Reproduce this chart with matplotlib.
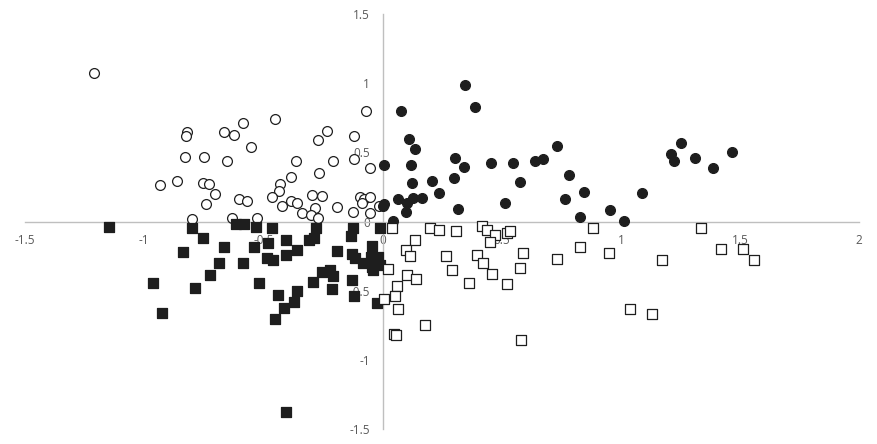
import matplotlib
matplotlib.use("Agg")
import matplotlib.pyplot as plt
from matplotlib.ticker import FixedLocator, FuncFormatter

plt.rcParams['font.family'] = ['Open Sans', 'DejaVu Sans']
plt.rcParams['axes.unicode_minus'] = False

# Quadrant II: open circles
q2_x = [-1.209, -0.819, -0.823, -0.828, -0.748, -0.932, -0.861, -0.753, -0.727, -0.702,
        -0.740, -0.798, -0.068, -0.665, -0.622, -0.584, -0.450, -0.552, -0.232, -0.270,
        -0.119, -0.651, -0.363, -0.207, -0.120, -0.052, -0.266, -0.384, -0.430, -0.435,
        -0.601, -0.570, -0.463, -0.421, -0.384, -0.360, -0.339, -0.295, -0.253, -0.284,
        -0.302, -0.270, -0.190, -0.123, -0.095, -0.078, -0.053, -0.088, -0.052, -0.015,
        -0.633, -0.526]
q2_y = [1.072, 0.650, 0.618, 0.465, 0.465, 0.267, 0.291, 0.277, 0.270, 0.197,
        0.125, 0.019, 0.797, 0.647, 0.624, 0.712, 0.739, 0.537, 0.652, 0.590,
        0.616, 0.438, 0.438, 0.438, 0.450, 0.385, 0.351, 0.322, 0.272, 0.221,
        0.161, 0.151, 0.180, 0.115, 0.151, 0.132, 0.062, 0.192, 0.185, 0.098,
        0.050, 0.028, 0.105, 0.067, 0.180, 0.161, 0.180, 0.132, 0.062, 0.113,
        0.028, 0.028]

# Quadrant I: filled circles
q1_x = [0.347, 0.389, 0.078, 0.112, 0.137, 0.006, 0.119, 0.305, 0.340, 0.456,
        0.548, 0.639, 0.672, 0.733, 0.782, 0.578, 0.125, 0.208, 0.301, 0.238,
        0.066, 0.129, 0.164, 0.104, 0.006, 0.002, 0.099, 0.316, 0.513, 0.766,
        0.846, 0.829, 0.042, 0.954, 1.014, 1.089, 1.211, 1.222, 1.253, 1.310,
        1.387, 1.466]
q1_y = [0.985, 0.826, 0.797, 0.599, 0.522, 0.407, 0.407, 0.457, 0.392, 0.421,
        0.421, 0.438, 0.450, 0.544, 0.335, 0.284, 0.277, 0.291, 0.315, 0.204,
        0.161, 0.171, 0.171, 0.132, 0.127, 0.113, 0.067, 0.089, 0.132, 0.161,
        0.212, 0.031, 0.002, 0.084, 0.002, 0.207, 0.491, 0.436, 0.566, 0.460,
        0.385, 0.501]

# Quadrant III: filled squares
q3_x = [-1.146, -0.798, -0.752, -0.836, -0.664, -0.616, -0.581, -0.530, -0.463, -0.538,
        -0.479, -0.405, -0.685, -0.584, -0.484, -0.458, -0.405, -0.723, -0.962, -0.786,
        -0.517, -0.437, -0.414, -0.450, -0.924, -0.281, -0.288, -0.309, -0.360, -0.190,
        -0.123, -0.133, -0.046, -0.130, -0.116, -0.081, -0.050, -0.018, -0.046, -0.011,
        -0.039, -0.255, -0.221, -0.209, -0.291, -0.214, -0.127, -0.119, -0.022, -0.358,
        -0.370, -0.011, -0.405]
q3_y = [-0.041, -0.046, -0.121, -0.222, -0.186, -0.020, -0.020, -0.039, -0.048, -0.186,
        -0.157, -0.133, -0.301, -0.301, -0.265, -0.277, -0.241, -0.388, -0.446, -0.482,
        -0.446, -0.530, -0.622, -0.704, -0.663, -0.044, -0.121, -0.133, -0.205, -0.212,
        -0.048, -0.104, -0.174, -0.236, -0.265, -0.301, -0.254, -0.254, -0.326, -0.314,
        -0.350, -0.362, -0.350, -0.391, -0.434, -0.487, -0.422, -0.535, -0.590, -0.501,
        -0.579, -0.044, -1.376]

# Quadrant IV: open squares
q4_x = [0.041, 0.200, 0.238, 0.309, 0.416, 0.439, 0.471, 0.451, 0.523, 0.534,
        0.137, 0.099, 0.116, 0.267, 0.397, 0.422, 0.590, 0.733, 0.024, 0.292,
        0.460, 0.578, 0.104, 0.141, 0.364, 0.523, 0.062, 0.053, 0.007, 0.066,
        0.179, 0.049, 0.055, 0.582, 0.884, 1.336, 0.829, 0.951, 1.173, 1.421,
        1.513, 1.559, 1.039, 1.131]
q4_y = [-0.044, -0.048, -0.063, -0.068, -0.034, -0.063, -0.097, -0.150, -0.082, -0.068,
        -0.135, -0.207, -0.251, -0.251, -0.241, -0.301, -0.229, -0.272, -0.345, -0.352,
        -0.381, -0.337, -0.388, -0.417, -0.446, -0.453, -0.467, -0.540, -0.561, -0.634,
        -0.747, -0.814, -0.819, -0.855, -0.048, -0.048, -0.186, -0.229, -0.280, -0.200,
        -0.200, -0.280, -0.634, -0.670]

x_ticks = [-1.5, -1, -0.5, 0, 0.5, 1, 1.5, 2]
y_ticks = [-1.5, -1, -0.5, 0, 0.5, 1, 1.5]

W, H = 877, 444
fig = plt.figure(figsize=(W / 100, H / 100), dpi=100)
ax = fig.add_axes([25 / W, (H - 429.3) / H, 834.3 / W, 415.3 / H])
ax.set_xlim(-1.5, 2)
ax.set_ylim(-1.5, 1.5)

ink = '#1e1e1e'
ms = 50
lw = 0.9
ax.scatter(q2_x, q2_y, s=ms, marker='o', facecolor='white', edgecolor=ink, linewidth=lw, zorder=3)
ax.scatter(q1_x, q1_y, s=ms, marker='o', facecolor=ink, edgecolor=ink, linewidth=lw, zorder=3)
ax.scatter(q3_x, q3_y, s=ms, marker='s', facecolor=ink, edgecolor=ink, linewidth=lw, zorder=3)
ax.scatter(q4_x, q4_y, s=ms, marker='s', facecolor='white', edgecolor=ink, linewidth=lw, zorder=3)

for side in ['top', 'right']:
    ax.spines[side].set_visible(False)
ax.spines['left'].set_position(('data', 0))
ax.spines['bottom'].set_position(('data', 0))
for side in ['left', 'bottom']:
    ax.spines[side].set_color('#bfbfbf')
    ax.spines[side].set_linewidth(1.0)
ax.set_axisbelow(True)

fmt = FuncFormatter(lambda v, p: ('%g' % v))
ax.xaxis.set_major_locator(FixedLocator(x_ticks))
ax.yaxis.set_major_locator(FixedLocator(y_ticks))
ax.xaxis.set_major_formatter(fmt)
ax.yaxis.set_major_formatter(fmt)
ax.tick_params(axis='x', length=0, pad=9, labelsize=8.5, labelcolor='#595959')
ax.tick_params(axis='y', length=0, pad=9, labelsize=8.5, labelcolor='#595959')
ax.patch.set_visible(False)

fig.savefig('out.png', dpi=100)
